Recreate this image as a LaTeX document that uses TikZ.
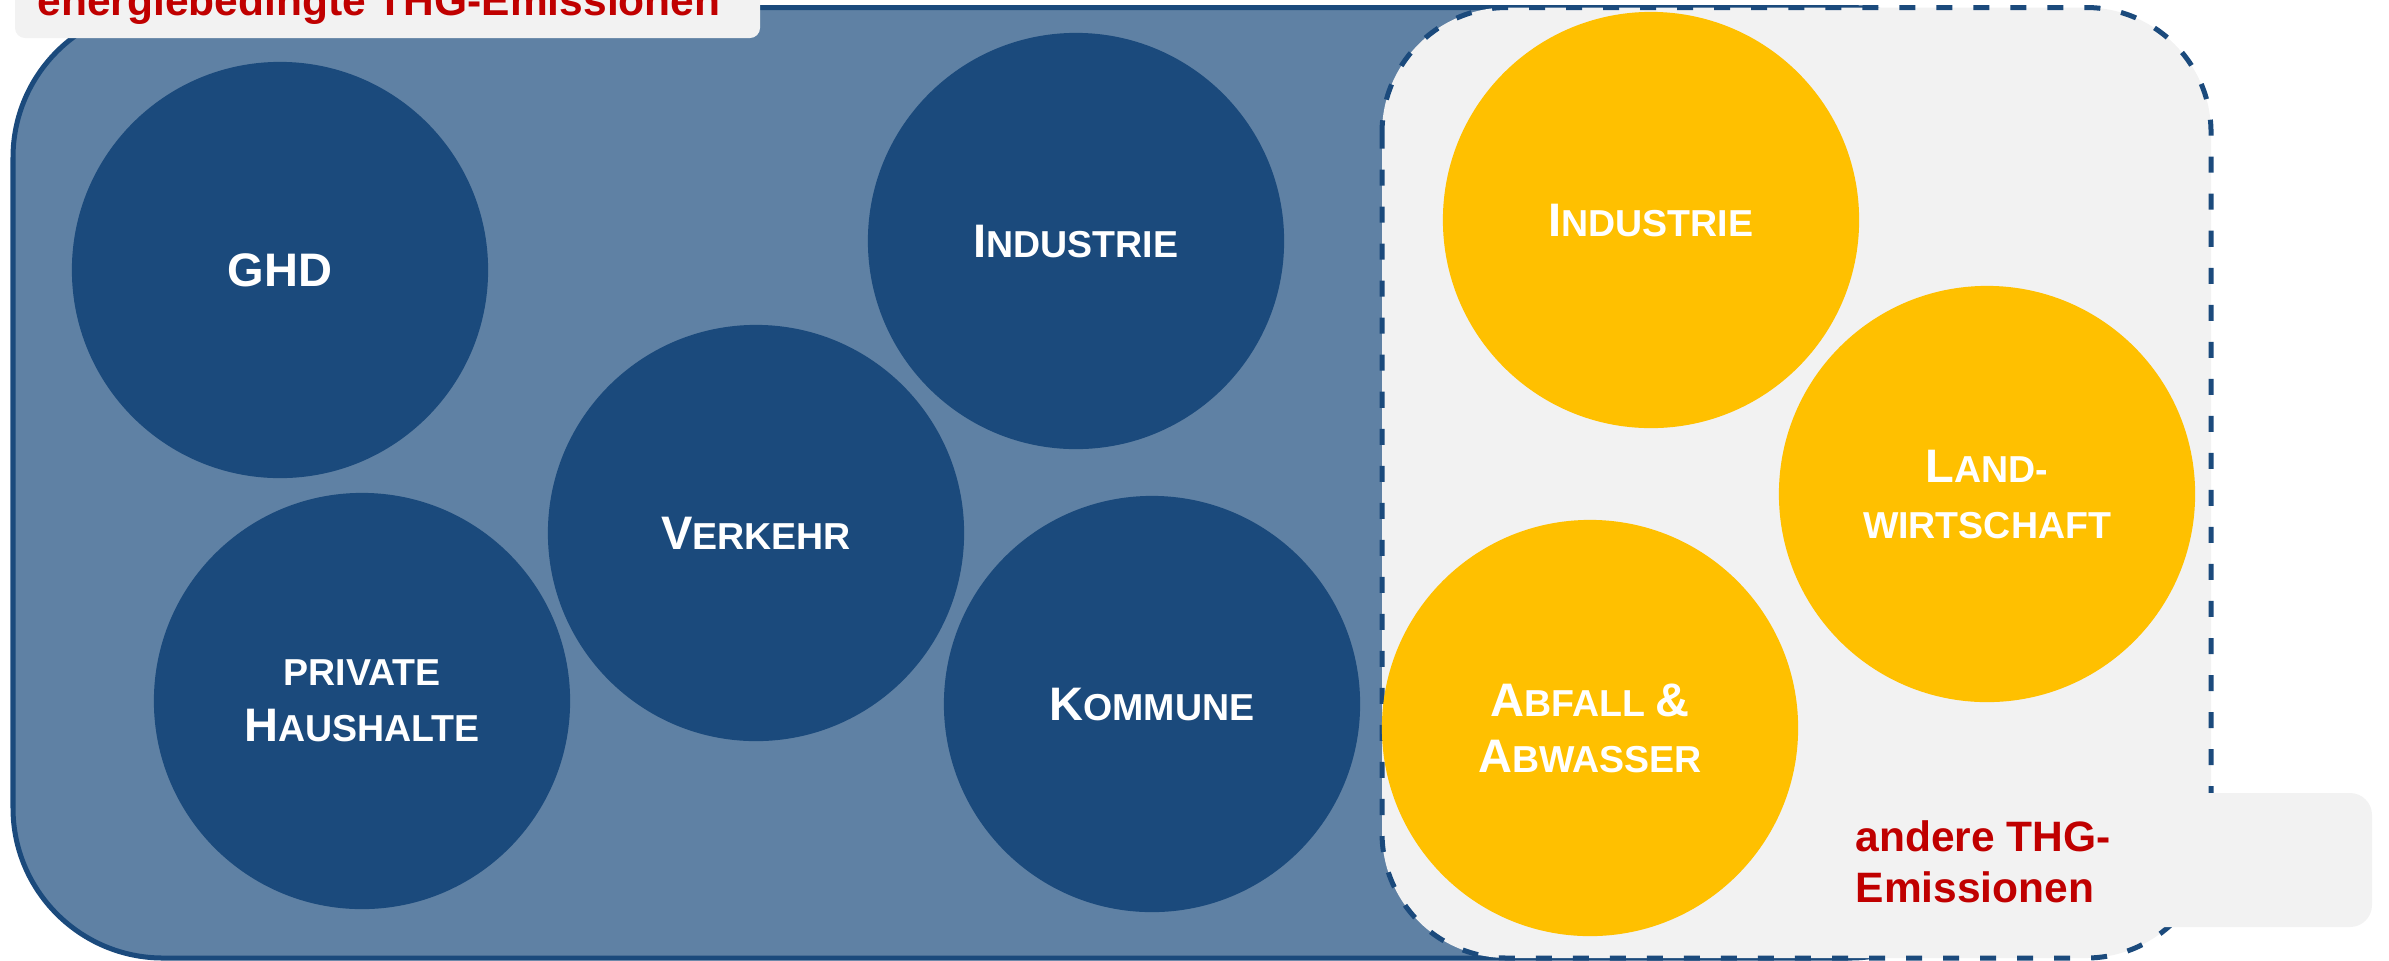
\documentclass[tikz,border=0pt]{standalone}
\usepackage{fontspec}
\setmainfont{Liberation Sans}

\definecolor{sectorblue}{RGB}{27,74,124}
\definecolor{framefill}{RGB}{95,129,164}
\definecolor{amber}{RGB}{255,192,0}
\definecolor{panel}{RGB}{242,242,242}
\definecolor{thgred}{RGB}{192,0,0}

% small-caps look: base text in the smaller size, initials raised to full size
\newcommand\circfont{\bfseries\fontsize{10.67pt}{15.93pt}\selectfont}
\newcommand\Kap[1]{{\fontsize{13.37pt}{15.93pt}\selectfont #1}}
\newcommand\tagfont{\bfseries\fontsize{12.09pt}{14.51pt}\selectfont}

\begin{document}
\begin{tikzpicture}[x=0.01cm,y=-0.01cm,
  sector/.style={circle, minimum size=4.16cm, inner sep=0pt, align=center,
                 text=white, font=\circfont},
  energy/.style={sector, fill=sectorblue},
  other/.style={sector, fill=amber},
  tagtext/.style={inner sep=0pt, font=\tagfont, text=thgred}]

\useasboundingbox (0,0) rectangle (2389,960);

% energy-related frame
\draw[fill=framefill, draw=sectorblue, line width=0.05cm, rounded corners=1.5cm]
  (13,7.5) rectangle (2000,958);

% frame for the other emissions
\draw[fill=panel, draw=sectorblue, line width=0.05cm, rounded corners=1.25cm,
      dash pattern=on 0.16cm off 0.21cm]
  (1382,7.5) rectangle (2211,958);

% caption tabs
\fill[panel, rounded corners=0.1cm] (15,-40) rectangle (760,38);
\node[tagtext, anchor=base west] (energietag) at (37,15) {energiebedingte THG-Emissionen};

\fill[panel, rounded corners=0.22cm] (1840,793) rectangle (2372,927);
\node[tagtext, anchor=west, align=left] (anderetag) at (1855,862) {andere THG-\\Emissionen};

% energy sectors
\node[energy] (ghd)      at (280,270)  {\Kap{GHD}};
\node[energy] (indblue)  at (1076,241) {\Kap{I}NDUSTRIE};
\node[energy] (verkehr)  at (756,533)  {\Kap{V}ERKEHR};
\node[energy] (haushalt) at (362,701)  {PRIVATE\\\Kap{H}AUSHALTE};
\node[energy] (kommune)  at (1152,704) {\Kap{K}OMMUNE};

% other sectors
\node[other] (indyellow) at (1651,220) {\Kap{I}NDUSTRIE};
\node[other] (landwirt)  at (1987,494) {\Kap{L}AND-\\WIRTSCHAFT};
\node[other] (abfall)    at (1590,728) {\Kap{A}BFALL \Kap{\&}\\\Kap{A}BWASSER};

\end{tikzpicture}
\end{document}
